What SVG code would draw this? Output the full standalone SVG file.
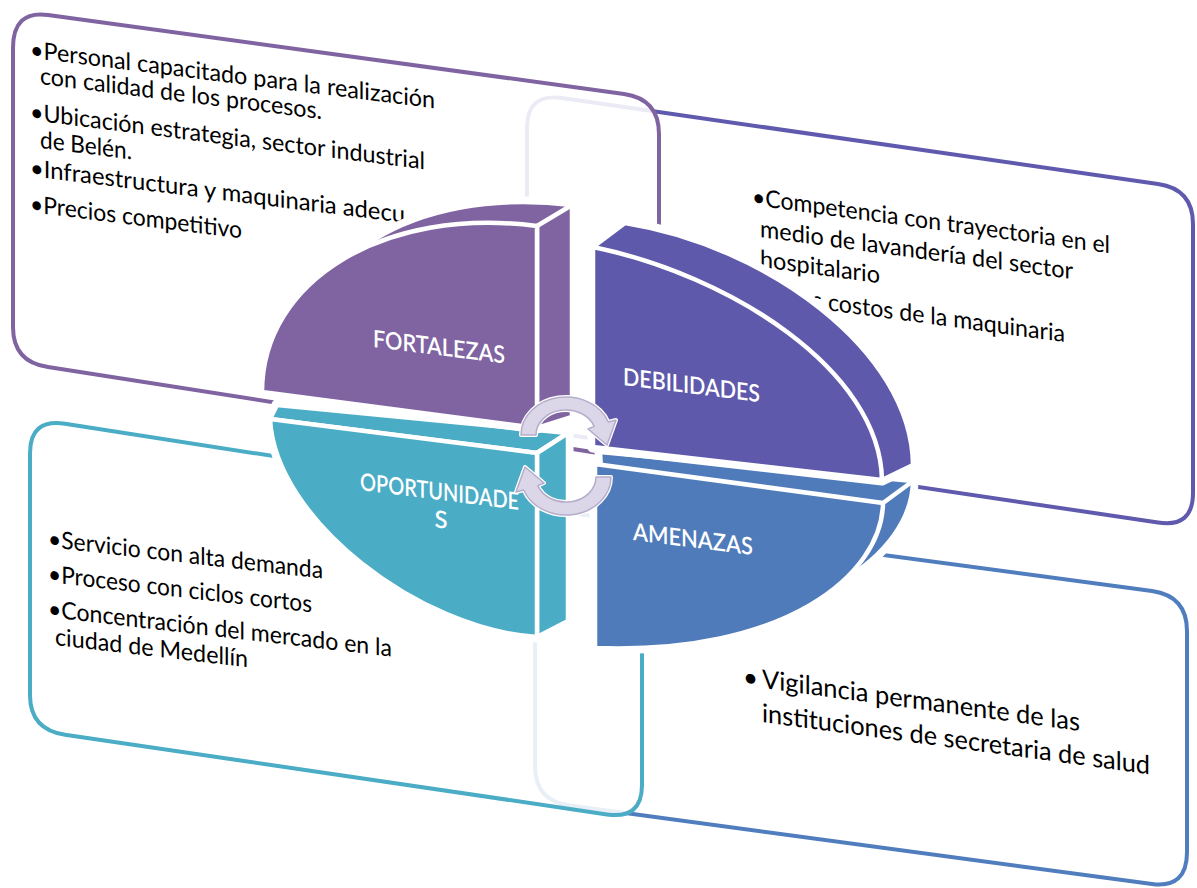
<svg xmlns="http://www.w3.org/2000/svg" width="1197" height="888" viewBox="0 0 1197 888">
<style>
.box{fill:#fff;stroke-width:4;stroke-linejoin:round}
.over{fill-opacity:0.88}
.txt{font-family:Lato,"Open Sans","Liberation Sans",sans-serif;fill:#000;font-size:24px}
.big{font-size:26px}
.lbl{font-family:Lato,"Open Sans","Liberation Sans",sans-serif;fill:#fff;font-size:24px;font-weight:600}
.halo{fill:#fff;stroke:#fff;stroke-width:11;stroke-linejoin:round}
.face{stroke:#fff;stroke-width:4.5;stroke-linejoin:round}
.edge{fill:none;stroke:#fff;stroke-width:4.5;stroke-linecap:round}
.arrow{fill:#DCD7E8;stroke:#B5ADCB;stroke-width:1.5;stroke-linejoin:round}
.arrowHalo{fill:none;stroke:#fff;stroke-width:4;stroke-linejoin:round}
</style>
<rect width="1197" height="888" fill="#fff"/>

<!-- boxes behind -->
<g id="box-debilidades">
<path class="box" stroke="#5F5AAD" d="M527,128 Q527,93 562,98 L1158,184 Q1193,189 1193,224 L1193,493 Q1193,528 1158,522.5 L562,434 Q527,428 527,393 Z"/>
<g class="txt" transform="matrix(1,0.135,0,1,0,0)">
<text x="752" y="103.5" textLength="358" lengthAdjust="spacingAndGlyphs">•Competencia con trayectoria en el</text>
<text x="760" y="134.4" textLength="313" lengthAdjust="spacingAndGlyphs">medio de lavandería del sector</text>
<text x="760" y="164.4" textLength="120" lengthAdjust="spacingAndGlyphs">hospitalario</text>
<text x="812" y="198.4" textLength="253" lengthAdjust="spacingAndGlyphs">s costos de la maquinaria</text>
</g>
</g>

<g id="box-amenazas">
<path class="box" stroke="#4F7DBD" d="M535,543 Q535,508 570,513 L1152,591 Q1187,596 1187,631 L1187,852 Q1187,888.7 1152,884 L570,805.5 Q535,801 535,766 Z"/>
<g class="txt big" transform="matrix(1,0.135,0,1,0,0)">
<text x="743" y="585.1">•</text>
<text x="762" y="585.1" textLength="318" lengthAdjust="spacingAndGlyphs">Vigilancia permanente de las</text>
<text x="762" y="619.1" textLength="388" lengthAdjust="spacingAndGlyphs">instituciones de secretaria de salud</text>
</g>
</g>

<g id="box-fortalezas">
<path class="box over" stroke="#8064A2" d="M13,48 Q13,10 48,15 L624,94 Q659,99 659,134 L659,428 Q659,462 624,457 L48,367 Q13,362 13,327 Z"/>
<g class="txt" transform="matrix(1,0.125,0,1,0,0)">
<text x="30" y="54" textLength="405" lengthAdjust="spacingAndGlyphs">•Personal capacitado para la realización</text>
<text x="40" y="79" textLength="282" lengthAdjust="spacingAndGlyphs">con calidad de los procesos.</text>
<text x="30" y="116.25" textLength="395" lengthAdjust="spacingAndGlyphs">•Ubicación estrategia, sector industrial</text>
<text x="40" y="143" textLength="92" lengthAdjust="spacingAndGlyphs">de Belén.</text>
<text x="30" y="172.25" textLength="375" lengthAdjust="spacingAndGlyphs">•Infraestructura y maquinaria adecu</text>
<text x="30" y="208.25" textLength="212" lengthAdjust="spacingAndGlyphs">•Precios competitivo</text>
</g>
</g>

<g id="box-oportunidades">
<path class="box over" stroke="#4BACC6" d="M30,453 Q30,418.4 65,423.8 L607,507.8 Q642,513.2 642,548 L642,785 Q642,819.5 607,814.4 L65,734.7 Q30,729.6 30,695 Z"/>
<g class="txt" transform="matrix(1,0.115,0,1,0,0)">
<text x="48" y="541.5" textLength="275" lengthAdjust="spacingAndGlyphs">•Servicio con alta demanda</text>
<text x="48" y="576.5" textLength="264" lengthAdjust="spacingAndGlyphs">•Proceso con ciclos cortos</text>
<text x="48" y="611.5" textLength="344" lengthAdjust="spacingAndGlyphs">•Concentración del mercado en la</text>
<text x="55" y="638.7" textLength="193" lengthAdjust="spacingAndGlyphs">ciudad de Medellín</text>
</g>
</g>

<!-- pie quadrants -->
<g id="pie-amenazas">
<path class="halo" d="M600,452 L913,481 C912,553 815,633 610,628 Z"/>
<path class="halo" d="M595,464 L883,503 C882,575 785,655 595,648 Z"/>
<path class="face" fill="#507BBA" d="M600,452 L913,481 C912,553 815,633 610,628 Z"/>
<path class="face" fill="#507BBA" d="M595,464 L883,503 C882,575 785,655 595,648 Z"/>
<path class="edge" d="M883,503 L913,481"/>
</g>

<g id="pie-debilidades">
<path class="halo" d="M593,447 L593,247 L625,223 C765,245 912,350 913,465 L882,480 Z"/>
<path class="face" fill="#5E59AB" d="M593,447 L593,247 L625,223 C765,245 912,350 913,465 L882,480 Z"/>
<path class="face" fill="#5E59AB" d="M593,447 L593,247 C730,275 880,370 882,480 Z"/>
</g>

<g id="pie-oportunidades">
<path class="halo" d="M270,419 L277,405 L568,433 L568,621 L537,637 Z"/>
<path class="halo" d="M537,453 L270,419 C275,520 420,630 537,637 Z"/>
<path class="face" fill="#4BACC6" d="M270,419 L277,405 L568,433 L537,453 Z"/>
<path class="face" fill="#4BACC6" d="M537,453 L568,433 L568,621 L537,637 Z"/>
<path class="face" fill="#4BACC6" d="M537,453 L270,419 C275,520 420,630 537,637 Z"/>
</g>

<g id="pie-fortalezas">
<path class="halo" d="M296,372 C296,262 410,186 572,205 L572,417 Z"/>
<path class="halo" d="M537,428 L262,392 C262,280 385,206 537,226 L572,205 L572,417 Z"/>
<path class="face" fill="#8064A2" d="M296,372 C296,262 410,186 572,205 L572,417 Z"/>
<path class="face" fill="#8064A2" d="M537,226 L572,205 L572,417 L537,428 Z"/>
<path class="face" fill="#8064A2" d="M537,428 L262,392 C262,280 385,206 537,226 Z"/>
</g>

<!-- quadrant labels -->
<g id="labels" class="lbl" transform="matrix(1,0.125,0,1,0,0)">
<text x="373" y="300.4" textLength="132" lengthAdjust="spacingAndGlyphs">FORTALEZAS</text>
<text x="623" y="307.1" textLength="137" lengthAdjust="spacingAndGlyphs">DEBILIDADES</text>
<text x="360" y="445" textLength="159" lengthAdjust="spacingAndGlyphs">OPORTUNIDADE</text>
<text x="441" y="472.9" text-anchor="middle">S</text>
<text x="633" y="460.9" textLength="120" lengthAdjust="spacingAndGlyphs">AMENAZAS</text>
</g>

<!-- cycle arrows -->
<g id="connectors">
<defs>
<path id="arr" d="M521,435 A45,38 0 0 1 608.3,422 L616,420 L607,445 L588,429 L594.2,426.4 A30,25 0 0 0 536,435 Z"/>
</defs>
<use href="#arr" class="arrowHalo"/>
<use href="#arr" class="arrow"/>
<g transform="rotate(180 566 456)">
<use href="#arr" class="arrowHalo"/>
<use href="#arr" class="arrow"/>
</g>
</g>
</svg>
